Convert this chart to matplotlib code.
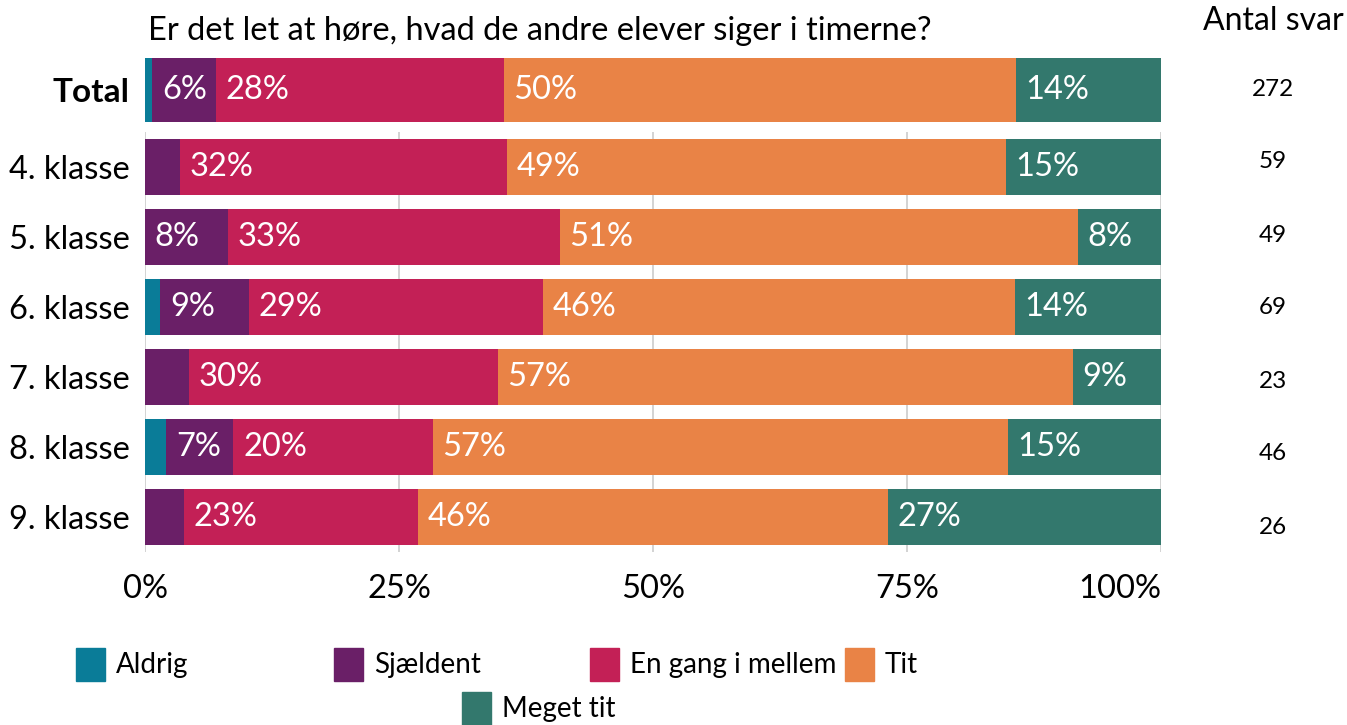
import matplotlib
matplotlib.use("Agg")
from matplotlib import pyplot as plt
from matplotlib.patches import Rectangle
import numpy as np

plt.rcParams['font.family'] = ['Lato', 'DejaVu Sans']

# Answer categories and colours
answers = ['Aldrig', 'Sjældent', 'En gang i mellem', 'Tit', 'Meget tit']
colors = ['#0a7c98', '#6a1f67', '#c32056', '#e98346', '#33786d']

title = 'Er det let at høre, hvad de andre elever siger i timerne?'

# Total row (percent per answer)
total_pct = [0.7, 6.3, 28.3, 50.4, 14.3]
total_n = 272

# Per grade (percent per answer)
grades = ['4. klasse', '5. klasse', '6. klasse', '7. klasse', '8. klasse', '9. klasse']
aldrig = [0.0, 0.0, 1.5, 0.0, 2.1, 0.0]
sjaeldent = [3.4, 8.2, 8.7, 4.3, 6.6, 3.8]
en_gang = [32.2, 32.6, 29.0, 30.4, 19.6, 23.1]
tit = [49.1, 51.0, 46.4, 56.6, 56.6, 46.2]
meget_tit = [15.3, 8.2, 14.4, 8.7, 15.1, 26.9]
grade_n = [59, 49, 69, 23, 46, 26]

grade_pct = np.array([aldrig, sjaeldent, en_gang, tit, meget_tit])

W, H = 1347, 725
fig = plt.figure(figsize=(W / 100, H / 100), dpi=100)

def px_axes(x0, y0, x1, y1):
    return fig.add_axes([x0 / W, 1 - y1 / H, (x1 - x0) / W, (y1 - y0) / H])

LABEL_FS = 23.5

def stacked_row(ax, y, values, height):
    left = 0
    for val, col in zip(values, colors):
        ax.barh(y, val, left=left, height=height, color=col, linewidth=0, zorder=2)
        if val >= 5:
            ax.annotate(f"{int(val + 0.5)}%", xy=(left, y), xytext=(7, 0),
                        textcoords='offset points', ha='left', va='center',
                        color='white', fontsize=LABEL_FS, zorder=3)
        left += val

# Total panel
ax_t = px_axes(145, 58, 1161, 121.5)
stacked_row(ax_t, 0, total_pct, 1.0)
ax_t.set_xlim(0, 100)
ax_t.set_ylim(-0.5, 0.5)
ax_t.set_yticks([0])
ax_t.set_yticklabels(['Total'], fontsize=24, fontweight='bold')
ax_t.set_xticks([])
ax_t.tick_params(axis='y', length=0, pad=11)
for s in ax_t.spines.values():
    s.set_visible(False)

# Grade panel
ax = px_axes(145, 132, 1161, 552)
for i in range(len(grades)):
    stacked_row(ax, i, grade_pct[:, i], 0.8)
ax.set_xlim(0, 100)
ax.set_ylim(5.5, -0.5)
ax.set_yticks(range(len(grades)))
ax.set_yticklabels(grades, fontsize=LABEL_FS)
ax.set_xticks([0, 25, 50, 75, 100])
ax.set_xticklabels(['0%', '25%', '50%', '75%', '100%'], fontsize=LABEL_FS)
ax.get_xticklabels()[-1].set_ha('right')
ax.tick_params(axis='y', length=0, pad=11)
ax.tick_params(axis='x', length=0, pad=16)
ax.grid(axis='x', color='#cccccc', linewidth=1.2, zorder=0)
ax.set_axisbelow(True)
for s in ax.spines.values():
    s.set_visible(False)

# Title and counts column
fig.text(148 / W, 1 - 31 / H, title, fontsize=23.5, ha='left', va='center')
fig.text(1273 / W, 1 - 21 / H, 'Antal svar', fontsize=23, ha='center', va='center')
fig.text(1273 / W, 1 - 89 / H, str(total_n), fontsize=17.5, ha='center', va='center')
for i, n in enumerate(grade_n):
    yy = 162 + i * 73
    fig.text(1273 / W, 1 - yy / H, str(n), fontsize=17.5, ha='center', va='center')

# Legend
leg_pos = [(76, 665), (334, 665), (590, 665), (845, 665), (462, 709)]
for (lx, ly), name, col in zip(leg_pos, answers, colors):
    fig.patches.append(Rectangle((lx / W, 1 - (ly + 16) / H), 29 / W, 33 / H,
                                 transform=fig.transFigure, color=col))
    fig.text((lx + 40) / W, 1 - ly / H, name, fontsize=20, ha='left', va='center')

fig.savefig('out.png', dpi=100)
